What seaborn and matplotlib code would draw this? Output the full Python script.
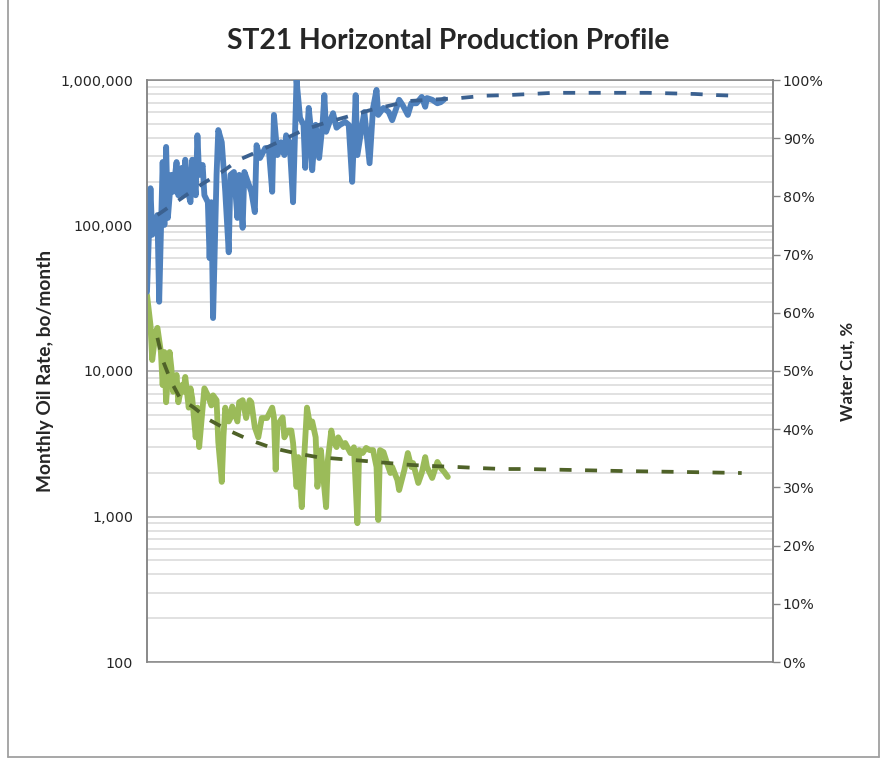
import matplotlib
matplotlib.use("Agg")
import matplotlib.pyplot as plt
import numpy as np
import pandas as pd
import seaborn as sns
from matplotlib.lines import Line2D
from matplotlib.ticker import FuncFormatter, LogLocator, NullFormatter, PercentFormatter

# %% data (month index)

wc_month = [0, 2, 3, 6, 7, 9, 10, 11, 12, 14, 15, 17, 18, 20, 21, 22, 24, 25, 26, 28,
            29, 30, 32, 33, 35, 36, 37, 38, 40, 41, 43, 45, 47, 48, 50, 52, 53, 55, 56, 58,
            60, 62, 63, 65, 68, 70, 72, 73, 75, 77, 79, 80, 82, 84, 86, 88, 90, 91, 93, 94,
            95, 97, 99, 101, 102, 103, 105, 107, 109, 111, 114, 116, 118, 120, 121, 124, 125, 128, 130, 132,
            133, 136, 139, 141, 144, 145, 147, 150, 152, 155, 158, 160, 161, 164, 167, 169, 171]
water_cut = [63.6, 81.4, 73.4, 76.8, 61.9, 85.9, 75.1, 88.5, 76.3, 83.7, 80.8, 85.9, 80.2, 84.9, 80.2, 86.3, 80.2, 79.0, 86.3, 80.2,
             90.5, 83.7, 85.4, 80.2, 79.0, 69.4, 79.0, 59.1, 83.7, 91.4, 89.3, 80.8, 70.4, 83.7, 84.2, 76.3, 83.7, 74.6, 84.2, 82.5,
             80.8, 77.3, 88.8, 86.6, 88.3, 88.3, 80.8, 94.0, 87.1, 89.3, 87.1, 90.5, 89.3, 79.0, 100.0, 93.5, 92.3, 84.9, 95.2, 92.3,
             84.5, 92.3, 86.6, 92.6, 97.4, 91.1, 92.8, 94.3, 91.8, 92.3, 92.8, 92.3, 82.5, 97.4, 87.1, 92.8, 94.5, 85.7, 95.2, 98.3,
             94.0, 95.2, 94.5, 93.1, 95.7, 96.6, 95.7, 94.0, 96.0, 96.0, 97.1, 95.4, 96.9, 96.6, 96.0, 96.2, 96.7]

oil_month = [0, 2, 3, 5, 6, 8, 9, 10, 11, 13, 14, 15, 17, 18, 20, 21, 22, 24, 25, 26,
             28, 29, 30, 32, 33, 35, 37, 38, 40, 41, 43, 44, 45, 47, 48, 49, 52, 53, 55, 57,
             59, 60, 62, 64, 66, 69, 72, 73, 74, 75, 78, 79, 81, 83, 84, 86, 87, 89, 90, 92,
             94, 95, 97, 98, 100, 101, 103, 104, 106, 107, 109, 110, 113, 114, 117, 118, 119, 121, 122, 124,
             126, 128, 130, 132, 133, 134, 136, 138, 140, 141, 144, 145, 148, 150, 152, 153, 156, 158, 160, 161,
             164, 167, 169, 171, 173]
oil_rate = [33300, 20700, 11900, 18500, 19800, 13500, 8000, 13500, 6100, 13500, 10500, 7200, 9400, 6100, 8000, 7200, 9100, 5600, 7600, 6500,
            3500, 5600, 3000, 5600, 7600, 6800, 5800, 6800, 6300, 3250, 1730, 3600, 5600, 4500, 4750, 5700, 4500, 6100, 6300, 4750,
            6300, 6100, 4100, 3500, 4750, 4750, 5600, 4800, 2100, 4250, 4800, 3500, 3900, 3900, 3200, 1600, 2560, 1160, 2100, 5600,
            4100, 4500, 3500, 1600, 2860, 2100, 1160, 2440, 3900, 3360, 3000, 3500, 3000, 3200, 2730, 2860, 2990, 900, 2860, 2730,
            2960, 2860, 2860, 2190, 946, 2860, 2770, 2330, 1990, 2190, 1780, 1520, 2090, 2730, 2190, 2330, 1700, 1990, 2560, 2190,
            1840, 2370, 2150, 2020, 1870]

wc_fit_month = [6, 20, 31, 43, 53, 66, 78, 90, 102, 114, 128, 151, 180, 194, 207, 221, 234, 260, 288, 302, 315, 328, 338]
wc_fit = [76.8, 79.7, 82.0, 84.2, 86.3, 88.0, 89.7, 91.4, 92.6, 93.6, 94.8, 96.4, 96.9, 97.3, 97.4, 97.6, 97.8, 97.8, 97.8, 97.7,
          97.6, 97.4, 97.3]

oil_fit_month = [6, 9, 14, 19, 27, 36, 47, 59, 72, 85, 98, 112, 125, 139, 152, 165, 178, 192, 205, 218, 272, 312, 342]
oil_fit = [16900, 11900, 8400, 6500, 5600, 4600, 3900, 3360, 2960, 2730, 2560, 2480, 2410, 2330, 2260, 2220, 2190, 2150, 2120, 2120,
           2055, 2020, 1990]

# %% plot

sns.set_style("white")
plt.rcParams["font.family"] = ["DejaVu Sans"]

blue = "#4F81BD"
green = "#9BBB59"
blue_dark = "#3B6190"
green_dark = "#4F6228"
axis_grey = "#868686"

fig = plt.figure(figsize=(8.83, 7.65), dpi=100)
ax = fig.add_axes([147 / 883, 103 / 765, 626 / 883, 582 / 765])
ax2 = ax.twinx()

solid = dict(solid_joinstyle="round", solid_capstyle="round")
sns.lineplot(x=oil_month, y=oil_rate, ax=ax, color=green, linewidth=4.2, errorbar=None, **solid)
sns.lineplot(x=oil_fit_month, y=oil_fit, ax=ax, color=green_dark, linewidth=2.7,
             linestyle=(0, (3.2, 3.6)), errorbar=None)
sns.lineplot(x=wc_month, y=water_cut, ax=ax2, color=blue, linewidth=4.2, errorbar=None, **solid)
sns.lineplot(x=wc_fit_month, y=wc_fit, ax=ax2, color=blue_dark, linewidth=2.7,
             linestyle=(0, (3.2, 3.6)), errorbar=None)

# left: oil rate, log scale
ax.set_yscale("log")
ax.set_ylim(100, 1e6)
ax.set_xlim(0, 360)
ax.set_xticks([])
ax.yaxis.set_major_locator(LogLocator(base=10))
ax.yaxis.set_minor_locator(LogLocator(base=10, subs=np.arange(2, 10)))
ax.yaxis.set_major_formatter(FuncFormatter(lambda v, p: f"{v:,.0f}"))
ax.yaxis.set_minor_formatter(NullFormatter())
ax.grid(which="major", axis="y", color="#a6a6a6", linewidth=1.1)
ax.grid(which="minor", axis="y", color="#d9d9d9", linewidth=1.1)
ax.tick_params(axis="y", which="both", length=0, labelsize=10.3, labelcolor="#262626", pad=10)
ax.set_ylabel("Monthly Oil Rate, bo/month", fontsize=13.8, fontweight="bold", family="Lato")
ax.yaxis.set_label_coords(-0.149, 0.5)

# right: water cut
ax2.set_ylim(0, 100)
ax2.set_yticks(range(0, 101, 10))
ax2.yaxis.set_major_formatter(PercentFormatter(decimals=0))
ax2.tick_params(axis="y", length=5, width=1, color=axis_grey, labelsize=10.3, labelcolor="#262626", pad=2)
ax2.set_ylabel("Water Cut, %", fontsize=12, fontweight="bold", family="Lato")
ax2.yaxis.set_label_coords(1.107, 0.5)

for a in (ax, ax2):
    a.set_xlabel("")
    for side in ("left", "right", "bottom", "top"):
        a.spines[side].set_color(axis_grey)
        a.spines[side].set_linewidth(1.1)
ax2.spines["top"].set_visible(False)
ax2.spines["bottom"].set_visible(False)

fig.text(448 / 883, 1 - 41 / 765, "ST21 Horizontal Production Profile", ha="center", va="center",
         fontsize=20.3, fontweight="bold", family="Lato")

# chart area frame
for xs, ys in [([8 / 883, 8 / 883], [8 / 765, 1.0]),
               ([8 / 883, 879 / 883], [8 / 765, 8 / 765]),
               ([879 / 883, 879 / 883], [8 / 765, 1.0])]:
    fig.add_artist(Line2D(xs, ys, transform=fig.transFigure, color="#a0a0a0", linewidth=1.3))

fig.savefig("out.png", dpi=100, facecolor="w")
